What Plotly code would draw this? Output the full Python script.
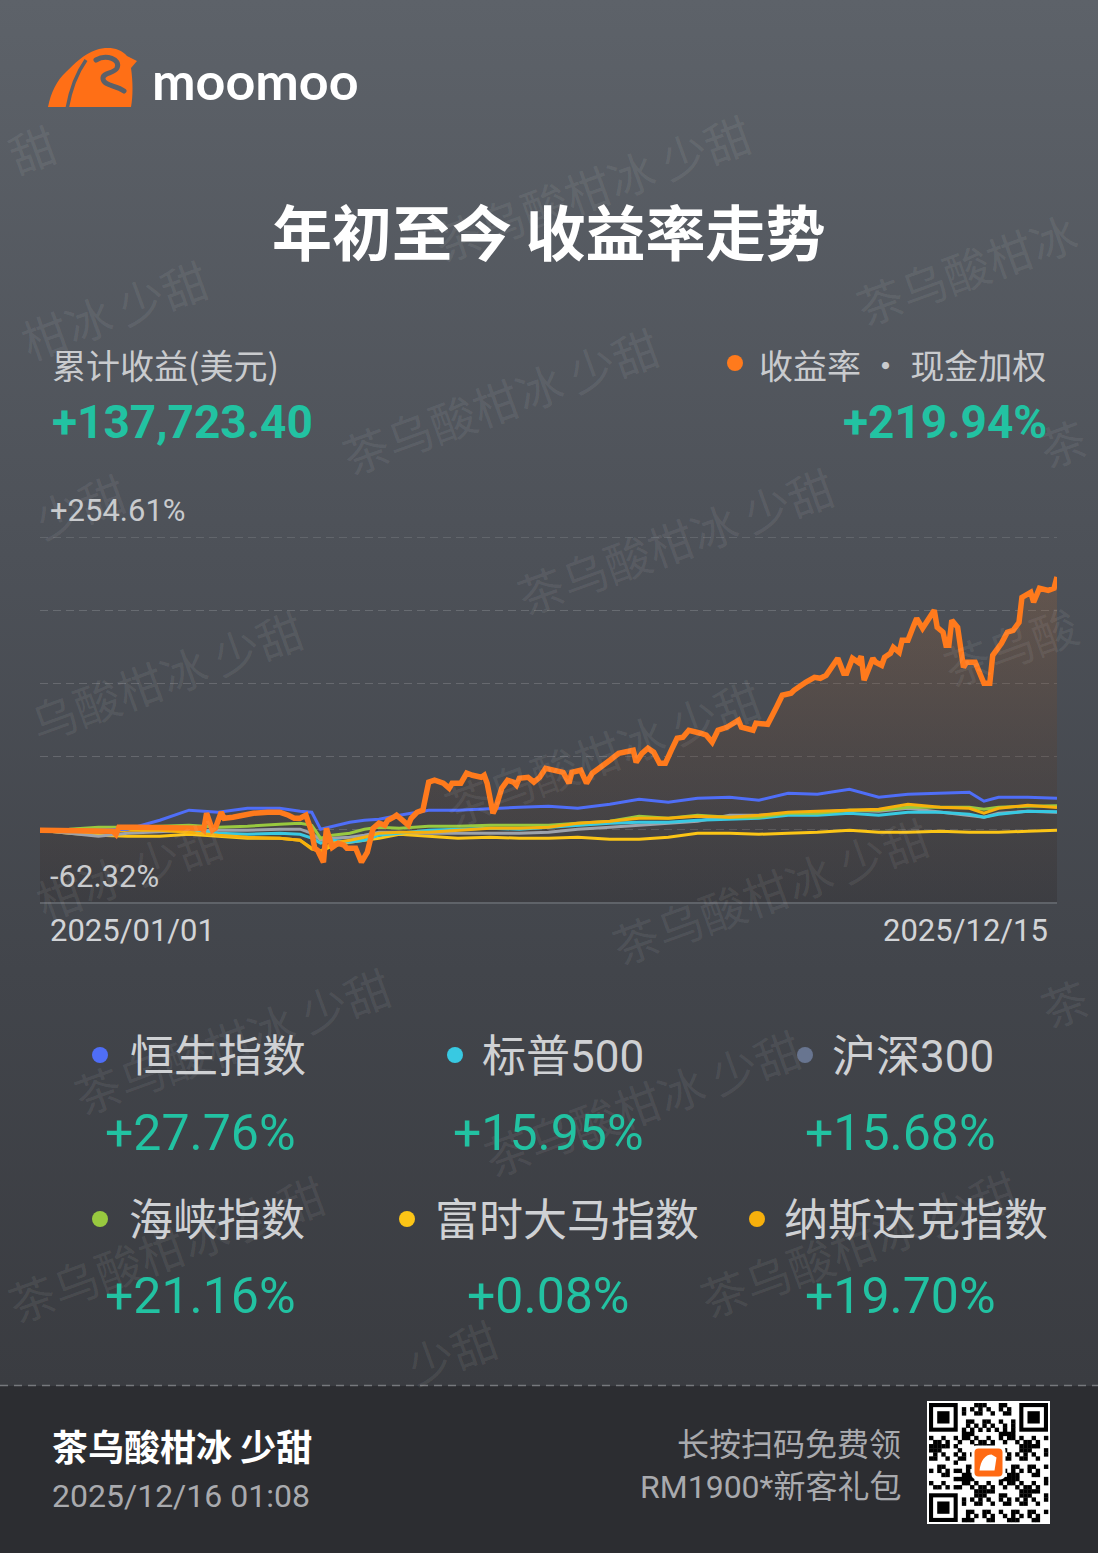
import base64
import plotly.graph_objects as go

W, H = 1098, 1553

# ---------------- data ----------------
TITLE = "年初至今 收益率走势"
PROFIT_LABEL = "累计收益(美元)"
PROFIT = 137723.40
RETURN_LABEL = "收益率 · 现金加权"
TOTAL_RETURN = 219.94
Y_MAX = 254.61
Y_MIN = -62.32
X_START = "2025-01-01"
X_END = "2025-12-15"
USER = "茶乌酸柑冰 少甜"
STAMP = "2025/12/16 01:08"
PROMO = ["长按扫码免费领", "RM1900*新客礼包"]
BRAND = "moomoo"

portfolio_dates = [
    "2025-01-01", "2025-01-11", "2025-01-22", "2025-01-26", "2025-01-27", "2025-01-28",
    "2025-02-03", "2025-02-14", "2025-02-25", "2025-02-26", "2025-02-27", "2025-03-01",
    "2025-03-02", "2025-03-04", "2025-03-05", "2025-03-08", "2025-03-11", "2025-03-15",
    "2025-03-20", "2025-03-24", "2025-03-27", "2025-03-29", "2025-03-31", "2025-04-02",
    "2025-04-04", "2025-04-05", "2025-04-06", "2025-04-08", "2025-04-09", "2025-04-11",
    "2025-04-13", "2025-04-15", "2025-04-16", "2025-04-19", "2025-04-21", "2025-04-23",
    "2025-04-25", "2025-04-27", "2025-04-29", "2025-04-30", "2025-05-02", "2025-05-03",
    "2025-05-05", "2025-05-07", "2025-05-08", "2025-05-10", "2025-05-12", "2025-05-13",
    "2025-05-14", "2025-05-16", "2025-05-19", "2025-05-21", "2025-05-22", "2025-05-25",
    "2025-05-27", "2025-05-29", "2025-06-01", "2025-06-02", "2025-06-03", "2025-06-05",
    "2025-06-06", "2025-06-08", "2025-06-10", "2025-06-12", "2025-06-13", "2025-06-14",
    "2025-06-17", "2025-06-19", "2025-06-21", "2025-06-23", "2025-06-26", "2025-06-29",
    "2025-07-01", "2025-07-02", "2025-07-05", "2025-07-07", "2025-07-09", "2025-07-12",
    "2025-07-15", "2025-07-18", "2025-07-23", "2025-07-24", "2025-07-26", "2025-07-28",
    "2025-07-30", "2025-08-01", "2025-08-03", "2025-08-05", "2025-08-07", "2025-08-09",
    "2025-08-11", "2025-08-15", "2025-08-17", "2025-08-19", "2025-08-21", "2025-08-24",
    "2025-08-26", "2025-08-28", "2025-08-29", "2025-09-02", "2025-09-03", "2025-09-07",
    "2025-09-10", "2025-09-12", "2025-09-15", "2025-09-16", "2025-09-20", "2025-09-21",
    "2025-09-23", "2025-09-25", "2025-09-27", "2025-10-01", "2025-10-03", "2025-10-04",
    "2025-10-06", "2025-10-08", "2025-10-09", "2025-10-10", "2025-10-13", "2025-10-14",
    "2025-10-16", "2025-10-17", "2025-10-19", "2025-10-20", "2025-10-22", "2025-10-23",
    "2025-10-25", "2025-10-27", "2025-10-28", "2025-10-30", "2025-11-01", "2025-11-03",
    "2025-11-04", "2025-11-06", "2025-11-07", "2025-11-08", "2025-11-09", "2025-11-11",
    "2025-11-13", "2025-11-14", "2025-11-17", "2025-11-18", "2025-11-20", "2025-11-22",
    "2025-11-23", "2025-11-26", "2025-11-28", "2025-11-30", "2025-12-02", "2025-12-03",
    "2025-12-06", "2025-12-07", "2025-12-09", "2025-12-12", "2025-12-14", "2025-12-15",
]
portfolio_values = [
    0, 0, 0, -0.9, -3.5, 2.6,
    2.6, 1.7, 1.7, 0, 14.8, 0,
    1.7, 15.6, 10.4, 11.3, 13.0, 14.8,
    15.6, 15.6, 13.0, 10.4, 10.4, 13.0,
    -1.7, -15.6, -17.4, -27.8, 1.7, -14.8,
    -11.3, -13.0, -15.6, -15.6, -27.8, -19.1,
    1.7, 6.1, 4.3, 8.7, 11.3, 13.0,
    8.7, 4.3, 10.4, 15.6, 17.4, 28.6,
    41.7, 43.4, 40.8, 36.5, 40.8, 40.8,
    49.5, 47.7, 46.0, 47.7, 40.8, 14.8,
    20.0, 36.5, 43.4, 41.7, 39.1, 45.1,
    46.0, 41.7, 46.0, 53.8, 52.1, 50.3,
    40.8, 50.3, 52.1, 40.8, 49.5, 54.7,
    60.8, 66.8, 69.4, 59.0, 66.8, 71.2,
    67.7, 58.2, 58.2, 69.4, 79.9, 80.7,
    86.8, 84.2, 82.5, 76.4, 86.8, 89.4,
    92.9, 95.5, 89.4, 86.8, 92.9, 92.0,
    106.8, 117.2, 118.9, 121.5, 128.5, 130.2,
    132.8, 131.9, 134.5, 149.3, 136.3, 136.3,
    149.3, 145.8, 151.0, 130.2, 149.3, 145.8,
    143.2, 150.2, 153.6, 158.8, 154.5, 164.9,
    164.9, 177.9, 184.0, 175.3, 182.3, 191.0,
    176.2, 171.9, 160.6, 160.6, 182.3, 176.2,
    141.5, 145.8, 145.8, 140.6, 127.6, 127.6,
    151.9, 162.3, 171.9, 173.6, 180.5, 202.2,
    206.6, 197.9, 210.1, 208.3, 210.1, 219.94,
]

index_dates = [
    "2025-01-01", "2025-01-11", "2025-01-21", "2025-01-31", "2025-02-11", "2025-02-21",
    "2025-03-03", "2025-03-13", "2025-03-24", "2025-03-31", "2025-04-04", "2025-04-07",
    "2025-04-11", "2025-04-17", "2025-04-22", "2025-04-27", "2025-05-04", "2025-05-14",
    "2025-05-24", "2025-06-04", "2025-06-14", "2025-06-24", "2025-07-04", "2025-07-15",
    "2025-07-25", "2025-08-04", "2025-08-14", "2025-08-25", "2025-09-04", "2025-09-14",
    "2025-09-24", "2025-10-05", "2025-10-15", "2025-10-25", "2025-11-05", "2025-11-15",
    "2025-11-20", "2025-11-25", "2025-12-05", "2025-12-15",
]
hsi_values = [
    0, 0, 0, 0.9, 8.7, 17.4, 15.6, 19.1, 19.1, 16.5, 15.6, 0.9,
    3.5, 6.9, 8.7, 9.5, 13.0, 17.4, 17.4, 19.1, 20.0, 20.8, 19.1, 22.6,
    26.9, 24.3, 27.8, 28.6, 26.0, 32.1, 31.2, 35.6, 28.6, 31.2, 32.1, 33.0,
    25.2, 28.6, 28.6, 27.76,
]
spx_values = [
    0, 0.5, 1.7, 1.7, 1.7, 0.9, -2.6, -3.5, -2.6, -3.5, -6.9, -11.3,
    -8.7, -10.4, -8.7, -4.3, -2.6, 0, 0.9, 1.7, 0.9, 2.6, 4.3, 6.1,
    6.9, 6.9, 8.7, 9.5, 10.4, 13.0, 13.0, 14.8, 13.0, 15.6, 15.6, 13.9,
    11.3, 13.9, 16.5, 15.95,
]
csi300_values = [
    0, -2.6, -5.2, -2.6, -0.9, 0, 0, 0, 0.9, 0.9, -2.6, -8.7,
    -6.9, -6.1, -4.3, -1.7, -1.7, -2.6, -2.6, -2.6, -2.6, -1.7, 0.9, 2.6,
    4.3, 6.1, 7.8, 13.0, 13.0, 14.8, 15.6, 17.4, 16.5, 19.1, 15.6, 13.0,
    11.3, 14.8, 16.5, 15.68,
]
sti_values = [
    0, 0.9, 2.6, 2.6, 3.5, 4.3, 2.6, 3.5, 5.2, 6.1, 4.3, -6.9,
    -4.3, -2.6, 0.9, 2.6, 1.7, 3.5, 3.5, 4.3, 4.3, 4.3, 6.1, 7.8,
    12.2, 10.4, 13.0, 11.3, 11.3, 14.8, 14.8, 17.4, 17.4, 20.0, 20.0, 20.0,
    18.2, 20.0, 20.8, 21.16,
]
klci_values = [
    0, -2.6, -4.3, -5.2, -5.2, -3.5, -5.2, -6.9, -6.9, -8.7, -15.6, -18.2,
    -13.9, -10.4, -8.7, -6.9, -3.5, -5.2, -6.9, -6.1, -6.9, -6.9, -6.1, -7.8,
    -7.8, -6.1, -2.6, -2.6, -3.5, -2.6, -1.7, 0, -1.7, -1.7, -0.9, -1.7,
    -1.7, -1.7, -0.9, 0.08,
]
ndx_values = [
    0, -0.9, -1.7, 0, 0, -1.7, -4.3, -6.1, -6.9, -8.7, -16.5, -18.2,
    -11.3, -8.7, -6.1, -2.6, -1.7, -1.7, 0, 1.7, 1.7, 2.6, 6.1, 7.8,
    10.4, 10.4, 12.2, 11.3, 13.0, 15.6, 16.5, 17.4, 18.2, 22.6, 20.0, 19.1,
    14.8, 19.1, 21.7, 19.70,
]

index_names = ["恒生指数", "标普500", "沪深300", "海峡指数", "富时大马指数", "纳斯达克指数"]
index_series = [hsi_values, spx_values, csi300_values, sti_values, klci_values, ndx_values]
index_line_colors = ["#4f6ef7", "#38c9e2", "#9ea3ab", "#98c93f", "#fcc516", "#f7b00c"]
index_dot_colors = ["#4f6ef7", "#38c9e2", "#687590", "#98c93f", "#fcc516", "#f7b00c"]
PORTFOLIO_COLOR = "#ff7a1c"
TEAL = "#22c2a2"

# ---------------- layout constants (pixels) ----------------
PL, PR, PT, PB = 40, 1057, 537, 902
BG_STROKE = "#5b6068"
GRID_COLOR = "rgba(255,255,255,0.16)"
GRID_DASH = "8px,5px"


def px(x):
    return x / W


def py(y):
    return 1 - y / H


# ---------------- background svg (decoration) ----------------
def qr_svg(x0, y0, size):
    n = 29
    m = size / n
    parts = [f'<rect x="{x0-2}" y="{y0-2}" width="{size+4}" height="{size+4}" fill="#ffffff"/>']

    def finder(r0, c0):
        parts.append(f'<rect x="{x0+c0*m:.2f}" y="{y0+r0*m:.2f}" width="{7*m:.2f}" height="{7*m:.2f}" fill="#000"/>')
        parts.append(f'<rect x="{x0+(c0+1)*m:.2f}" y="{y0+(r0+1)*m:.2f}" width="{5*m:.2f}" height="{5*m:.2f}" fill="#fff"/>')
        parts.append(f'<rect x="{x0+(c0+2)*m:.2f}" y="{y0+(r0+2)*m:.2f}" width="{3*m:.2f}" height="{3*m:.2f}" fill="#000"/>')

    for r in range(n):
        for c in range(n):
            if (r < 8 and c < 8) or (r < 8 and c >= n - 8) or (r >= n - 8 and c < 8):
                continue
            if 11 <= r <= 17 and 11 <= c <= 17:
                continue
            if r == 6 or c == 6:
                on = (r + c) % 2 == 0
            else:
                on = ((r * 7 + c * 13 + r * c * 3) % 11) < 5
            if on:
                parts.append(f'<rect x="{x0+c*m:.2f}" y="{y0+r*m:.2f}" width="{m+0.3:.2f}" height="{m+0.3:.2f}" fill="#000"/>')
    finder(0, 0)
    finder(0, n - 7)
    finder(n - 7, 0)
    cx, cy = x0 + size / 2, y0 + size / 2
    parts.append(f'<rect x="{cx-17}" y="{cy-17}" width="34" height="34" rx="5" fill="#fff"/>')
    parts.append(f'<rect x="{cx-14}" y="{cy-14}" width="28" height="28" rx="4" fill="#ff6a13"/>')
    parts.append(f'<path d="M{cx-9},{cy+8} C{cx-8},{cy-2} {cx-3},{cy-8} {cx+3},{cy-8} L{cx+8},{cy-5} L{cx+6},{cy+8} Z" fill="#fff"/>')
    return "".join(parts)


bull = (
    '<path d="M48,107 C51,92 57,80 66,72 C74,64 84,54 96,50 C108,46 120,48 127,56 '
    'L137,61 L131,68 C133,82 133,96 131,107 Z" fill="#ff6f16"/>'
    f'<path d="M67,109 C70,92 76,74 86,60" stroke="{BG_STROKE}" stroke-width="3.5" fill="none"/>'
    f'<path d="M96,60 C106,54 121,59 117,68 C114,74 102,72 103,79 C104,86 116,85 124,91" '
    f'stroke="{BG_STROKE}" stroke-width="5" fill="none" stroke-linecap="round"/>'
)

svg = (
    f'<svg xmlns="http://www.w3.org/2000/svg" width="{W}" height="{H}" viewBox="0 0 {W} {H}">'
    '<defs><linearGradient id="g" x1="0" y1="0" x2="0" y2="1">'
    '<stop offset="0" stop-color="#5d6269"/>'
    '<stop offset="0.4" stop-color="#4d5158"/>'
    '<stop offset="0.7" stop-color="#42454b"/>'
    '<stop offset="1" stop-color="#3a3c41"/>'
    '</linearGradient></defs>'
    f'<rect x="0" y="0" width="{W}" height="1386" fill="url(#g)"/>'
    f'<rect x="0" y="1386" width="{W}" height="{H-1386}" fill="#2c2d31"/>'
    f'<line x1="0" y1="1385.5" x2="{W}" y2="1385.5" stroke="#76787d" stroke-width="1.6" stroke-dasharray="8 6"/>'
    + bull + qr_svg(929, 1403, 119) + '</svg>'
)
svg_uri = "data:image/svg+xml;base64," + base64.b64encode(svg.encode("utf-8")).decode()

# ---------------- figure ----------------
fig = go.Figure()

# baseline for fill down to axis bottom
fig.add_trace(go.Scatter(
    x=portfolio_dates, y=[Y_MIN] * len(portfolio_dates), mode="lines",
    line=dict(width=0, color="rgba(0,0,0,0)"), hoverinfo="skip", showlegend=False))
fig.add_trace(go.Scatter(
    x=portfolio_dates, y=portfolio_values, mode="lines", fill="tonexty",
    line=dict(width=0, color="rgba(0,0,0,0)"),
    fillgradient=dict(type="vertical",
                      colorscale=[[0, "rgba(35,28,28,0.22)"], [1, "rgba(160,100,55,0.28)"]],
                      start=Y_MIN, stop=max(portfolio_values)),
    hoverinfo="skip", showlegend=False))

draw_order = [4, 2, 1, 3, 5, 0]
for i in draw_order:
    fig.add_trace(go.Scatter(
        x=index_dates, y=index_series[i], mode="lines", name=index_names[i],
        line=dict(color=index_line_colors[i], width=3), hoverinfo="skip", showlegend=False))

fig.add_trace(go.Scatter(
    x=portfolio_dates, y=portfolio_values, mode="lines", name=RETURN_LABEL,
    line=dict(color=PORTFOLIO_COLOR, width=5.5), hoverinfo="skip", showlegend=False))

step = (Y_MAX - Y_MIN) / 5
grid_vals = [Y_MIN + step * k for k in range(1, 5)]

fig.update_layout(
    width=W, height=H, margin=dict(l=0, r=0, t=0, b=0),
    paper_bgcolor="#3a3c41", plot_bgcolor="rgba(0,0,0,0)",
    showlegend=False, hovermode=False,
    xaxis=dict(domain=[px(PL), px(PR)], type="date", range=[X_START, X_END],
               showgrid=False, showticklabels=False, zeroline=False,
               showline=True, linecolor="#5f6369", linewidth=2, ticks="", fixedrange=True),
    yaxis=dict(domain=[py(PB), py(PT)], range=[Y_MIN, Y_MAX], tickvals=grid_vals,
               showticklabels=False, zeroline=False, showline=False,
               gridcolor=GRID_COLOR, gridwidth=1.4, griddash=GRID_DASH, fixedrange=True),
    images=[dict(source=svg_uri, xref="paper", yref="paper", x=0, y=1, sizex=1, sizey=1,
                 xanchor="left", yanchor="top", sizing="stretch", layer="below")],
)

CJK = "Noto Sans CJK SC"
NUM = "Roboto, Noto Sans CJK SC"
annotations = []


def text(x, y, s, size, color, family=CJK, xanchor="left", weight=400, angle=0):
    annotations.append(dict(
        x=px(x), y=py(y), xref="paper", yref="paper", text=s, showarrow=False,
        xanchor=xanchor, yanchor="middle", textangle=angle,
        font=dict(family=family, size=size, color=color, weight=weight)))


# watermarks (only the parts that fall on the card)
WM_COLOR = "rgba(255,255,255,0.075)"
watermarks = [
    ("甜", 32, 148), (USER, 592, 187), ("柑冰 少甜", 114, 309), (USER, 500, 400),
    ("茶乌酸柑冰", 966, 268), ("茶", 1062, 442), ("少甜", 80, 505), (USER, 675, 540),
    ("乌酸柑冰 少甜", 166, 675), (USER, 602, 752), ("茶乌酸", 1010, 645),
    ("柑冰 少甜", 129, 869), (USER, 770, 890), (USER, 232, 1040), (USER, 642, 1102),
    ("茶", 1064, 1002), (USER, 166, 1248), (USER, 858, 1243), ("少甜", 452, 1351),
]
for s, cx, cy in watermarks:
    text(cx, cy, s, 46, WM_COLOR, xanchor="center", angle=-20)

# brand & title
text(150, 80, BRAND, 52, "#ffffff", family="Lato", weight=700)
text(549, 229, TITLE, 60, "#ffffff", xanchor="center", weight=700)

# header stats
text(50, 364, PROFIT_LABEL, 34, "#c9cbce")
text(50, 422, f"{PROFIT:+,.2f}", 46, TEAL, family=NUM, weight=700)
text(1048, 364, RETURN_LABEL, 34, "#c9cbce", xanchor="right")
text(1049, 422, f"{TOTAL_RETURN:+.2f}%", 46, TEAL, family=NUM, xanchor="right", weight=700)

# axis labels
text(48, 511, f"{Y_MAX:+.2f}%", 31, "#c9cbce", family=NUM)
text(48, 876, f"{Y_MIN:+.2f}%", 31, "#c9cbce", family=NUM)
text(48, 931, X_START.replace("-", "/"), 31, "#d2d4d7", family=NUM)
text(1050, 931, X_END.replace("-", "/"), 31, "#d2d4d7", family=NUM, xanchor="right")

shapes = []
# top gridline at the axis maximum
shapes.append(dict(type="line", xref="x domain", yref="y", x0=0, x1=1, y0=Y_MAX, y1=Y_MAX,
                   line=dict(color=GRID_COLOR, width=1.4, dash=GRID_DASH), layer="below"))

# legend grid
dot_x = [100, 455, 805, 100, 407, 757]
name_x = [128, 480, 830, 127, 433, 782]
col_c = [200, 548, 900]
name_y = [1057, 1221]
val_y = [1133, 1296]
r_dot = 8
for i, name in enumerate(index_names):
    row, col = divmod(i, 3)
    text(name_x[i], name_y[row], name, 44, "#cfd1d4", family=NUM)
    vals = index_series[i]
    text(col_c[col], val_y[row], f"{vals[-1]:+.2f}%", 50, TEAL, family=NUM, xanchor="center")
    shapes.append(dict(type="circle", xref="paper", yref="paper",
                       x0=px(dot_x[i] - r_dot), x1=px(dot_x[i] + r_dot),
                       y0=py(name_y[row] - 2 + r_dot), y1=py(name_y[row] - 2 - r_dot),
                       fillcolor=index_dot_colors[i], line=dict(width=0)))

# header orange dot
shapes.append(dict(type="circle", xref="paper", yref="paper",
                   x0=px(735 - 8), x1=px(735 + 8), y0=py(363 + 8), y1=py(363 - 8),
                   fillcolor="#ff7a1c", line=dict(width=0)))

# footer
text(50, 1445, USER, 36, "#ffffff", weight=700)
text(50, 1496, STAMP, 32, "#a9aaae", family=NUM)
text(903, 1442, PROMO[0], 32, "#a9aaae", xanchor="right")
text(903, 1487, PROMO[1], 32, "#a9aaae", family=NUM, xanchor="right")

fig.update_layout(annotations=annotations, shapes=shapes)

fig.write_html("out.html", config={"displayModeBar": False})
